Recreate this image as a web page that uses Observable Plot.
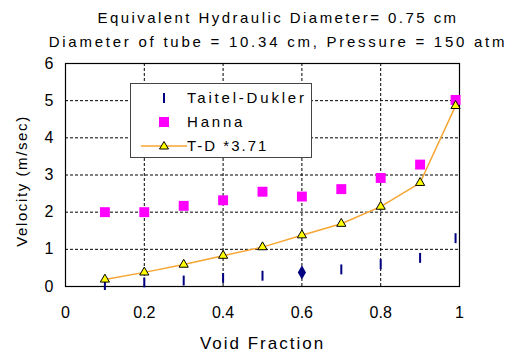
<!DOCTYPE html>
<html><head><meta charset="utf-8">
<script src="https://cdn.jsdelivr.net/npm/d3@7"></script>
<script src="https://cdn.jsdelivr.net/npm/@observablehq/plot@0.6"></script>
<style>
body{margin:0;background:#fff;}
#wrap{position:relative;width:515px;height:356px;overflow:hidden;font-family:"Liberation Sans",Arial,sans-serif;color:#000;}
#head{height:55px;position:relative;}
.title{position:absolute;left:0;width:556px;text-align:center;font-size:15px;white-space:nowrap;}
#legend{position:absolute;left:130px;top:83px;width:180px;height:73px;border:1.5px solid #444;background:#fff;font-size:15px;letter-spacing:2.5px;}
.row{position:absolute;left:0;height:20px;width:180px;}
.row svg{position:absolute;left:8px;top:0;}
.row span{position:absolute;left:56px;top:1px;line-height:18px;white-space:nowrap;}
</style></head>
<body>
<div id="wrap">
  <div id="head">
    <div class="title" style="top:9px;letter-spacing:2.45px">Equivalent Hydraulic Diameter= 0.75 cm</div>
    <div class="title" style="top:33px;letter-spacing:2.75px">Diameter of tube = 10.34 cm, Pressure = 150 atm</div>
  </div>
  <div id="chart"></div>
  <div id="legend">
    <div class="row" style="top:4px"><svg width="50" height="20"><line x1="25" x2="25" y1="5" y2="15" stroke="#000080" stroke-width="2"/></svg><span style="letter-spacing:2.8px">Taitel-Dukler</span></div>
    <div class="row" style="top:28px"><svg width="50" height="20"><rect x="20" y="5" width="10" height="10" fill="#FF00FF"/></svg><span style="letter-spacing:2.8px">Hanna</span></div>
    <div class="row" style="top:52px"><svg width="50" height="20"><line x1="2" x2="48" y1="10" y2="10" stroke="#F7A531" stroke-width="1.5"/><path d="M25,5.5 L29.5,13 L20.5,13 Z" fill="#FFFF00" stroke="#000" stroke-width="1"/></svg><span style="letter-spacing:2px">T-D *3.71</span></div>
  </div>
</div>
<script>
const voidFraction = [0.1, 0.2, 0.3, 0.4, 0.5, 0.6, 0.7, 0.8, 0.9, 0.99];
const taitelDukler = [0.04, 0.11, 0.16, 0.23, 0.29, 0.38, 0.46, 0.6, 0.77, 1.3];
const hanna = [2.0, 2.0, 2.17, 2.32, 2.55, 2.42, 2.62, 2.92, 3.28, 5.02];
const tdScaled = [0.19, 0.38, 0.59, 0.83, 1.06, 1.38, 1.69, 2.15, 2.79, 4.86];
const highlightVoid = 0.6;
const xTicks = [0, 0.2, 0.4, 0.6, 0.8, 1];
const yTicks = [0, 1, 2, 3, 4, 5, 6];
const xGrid = [0.2, 0.4, 0.6, 0.8];
const yGrid = [1, 2, 3, 4, 5];
const xLabel = "Void Fraction";
const yLabel = "Velocity (m/sec)";

const rows = voidFraction.map((v, i) => ({v, td: taitelDukler[i], hanna: hanna[i], tds: tdScaled[i]}));
const vline = {draw(ctx, size) { const h = Math.sqrt(size) / 2; ctx.moveTo(0, -h); ctx.lineTo(0, h); }};

const chart = Plot.plot({
  width: 515, height: 301,
  marginTop: 8, marginBottom: 70, marginLeft: 65, marginRight: 56,
  style: {fontFamily: "'Liberation Sans', Arial, sans-serif", fontSize: "16px", background: "#fff"},
  x: {domain: [0, 1]},
  y: {domain: [0, 6]},
  marks: [
    Plot.gridX(xGrid, {stroke: "#000", strokeOpacity: 1, strokeDasharray: "3,2"}),
    Plot.gridY(yGrid, {stroke: "#000", strokeOpacity: 1, strokeDasharray: "3,2"}),
    Plot.frame({stroke: "#000", strokeWidth: 1.2}),
    Plot.axisX({ticks: xTicks, tickSize: 0, tickPadding: 20, tickFormat: d => String(d), label: null, fontSize: 16}),
    Plot.axisY({ticks: yTicks, tickSize: 0, tickPadding: 12, tickFormat: d => String(d), label: null, fontSize: 16}),
    Plot.text([xLabel], {text: d => d, frameAnchor: "bottom", dy: 57, lineAnchor: "middle", textAnchor: "middle", fontSize: 17}),
    Plot.text([yLabel], {text: d => d, frameAnchor: "left", rotate: -90, dx: -43, dy: 6, lineAnchor: "middle", textAnchor: "middle", fontSize: 15}),
    Plot.line(rows, {x: "v", y: "tds", stroke: "#F7A531", strokeWidth: 1.5}),
    Plot.dot(rows, {x: "v", y: "hanna", symbol: "square", r: 5.6, fill: "#FF00FF"}),
    Plot.dot(rows.filter(d => d.v !== highlightVoid), {x: "v", y: "td", symbol: vline, r: 5.6, stroke: "#000080", strokeWidth: 2, fill: "none"}),
    Plot.dot(rows.filter(d => d.v === highlightVoid), {x: "v", y: "td", symbol: "diamond", r: 4.3, fill: "#000080"}),
    Plot.dot(rows, {x: "v", y: "tds", symbol: "triangle", r: 3.4, fill: "#FFFF00", stroke: "#000", strokeWidth: 1})
  ]
});
d3.select(chart).selectAll("text").filter(function() { return this.textContent === xLabel; }).style("letter-spacing", "2px");
d3.select(chart).selectAll("text").filter(function() { return this.textContent === yLabel; }).style("letter-spacing", "1.6px");
document.getElementById("chart").appendChild(chart);
</script>
</body></html>
